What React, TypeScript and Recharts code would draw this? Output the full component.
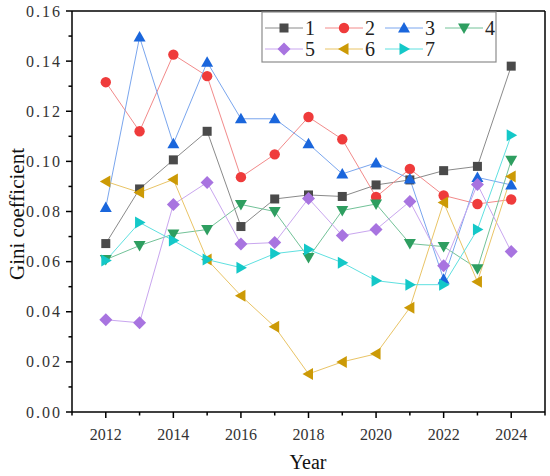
import React from 'react';
import { LineChart, Line, XAxis, YAxis, ReferenceLine } from 'recharts';

const years = [2012, 2013, 2014, 2015, 2016, 2017, 2018, 2019, 2020, 2021, 2022, 2023, 2024];
const s1 = [0.0672, 0.089, 0.1006, 0.112, 0.074, 0.085, 0.0866, 0.086, 0.0906, 0.0926, 0.0963, 0.098, 0.138];
const s2 = [0.1316, 0.112, 0.1426, 0.134, 0.0937, 0.1028, 0.1177, 0.1088, 0.0858, 0.097, 0.0864, 0.083, 0.0848];
const s3 = [0.0816, 0.1496, 0.107, 0.1396, 0.117, 0.117, 0.107, 0.095, 0.0994, 0.093, 0.053, 0.0936, 0.0906];
const s4 = [0.0608, 0.0664, 0.071, 0.0728, 0.0828, 0.08, 0.0616, 0.0804, 0.083, 0.0672, 0.066, 0.0572, 0.1004];
const s5 = [0.0368, 0.0356, 0.0828, 0.0916, 0.067, 0.0676, 0.0852, 0.0704, 0.0728, 0.084, 0.0584, 0.0908, 0.064];
const s6 = [0.092, 0.0876, 0.0928, 0.0608, 0.0464, 0.034, 0.0152, 0.02, 0.0232, 0.0416, 0.0836, 0.052, 0.094];
const s7 = [0.0604, 0.0756, 0.0684, 0.0608, 0.0576, 0.0632, 0.0648, 0.0596, 0.0524, 0.0508, 0.0508, 0.0728, 0.1104];

const seriesNames = ['1', '2', '3', '4', '5', '6', '7'];
const seriesValues = [s1, s2, s3, s4, s5, s6, s7];
const lineColors = ['#8a8a8a', '#f28a8a', '#7aa6ee', '#72c298', '#c9a6ef', '#e9c466', '#5fe0e0'];
const markerColors = ['#4a4a4a', '#ef3b3b', '#1a66dc', '#2e9e60', '#a874e0', '#cc9a06', '#14c8c8'];
const markerShapes = ['square', 'circle', 'up', 'down', 'diamond', 'left', 'right'];

const xTicks = [2011, 2012, 2013, 2014, 2015, 2016, 2017, 2018, 2019, 2020, 2021, 2022, 2023, 2024, 2025];
const yTicks = [0, 0.01, 0.02, 0.03, 0.04, 0.05, 0.06, 0.07, 0.08, 0.09, 0.1, 0.11, 0.12, 0.13, 0.14, 0.15, 0.16];

const data = years.map((year, i) => {
  const row: any = { year };
  seriesNames.forEach((n, k) => {
    row['s' + n] = seriesValues[k][i];
  });
  return row;
});

const FONT = '"Liberation Serif", "Times New Roman", serif';

function Marker({ cx, cy, shape, color }: { cx: number; cy: number; shape: string; color: string }) {
  if (cx == null || cy == null || isNaN(cx) || isNaN(cy)) return null;
  const s = 6;
  switch (shape) {
    case 'square':
      return <rect x={cx - 4.5} y={cy - 4.5} width={9} height={9} fill={color} />;
    case 'circle':
      return <circle cx={cx} cy={cy} r={5.2} fill={color} />;
    case 'up':
      return <polygon points={`${cx},${cy - s} ${cx - s},${cy + 4.5} ${cx + s},${cy + 4.5}`} fill={color} />;
    case 'down':
      return <polygon points={`${cx},${cy + s} ${cx - s},${cy - 4.5} ${cx + s},${cy - 4.5}`} fill={color} />;
    case 'left':
      return <polygon points={`${cx - s},${cy} ${cx + 4.5},${cy - s} ${cx + 4.5},${cy + s}`} fill={color} />;
    case 'right':
      return <polygon points={`${cx + s},${cy} ${cx - 4.5},${cy - s} ${cx - 4.5},${cy + s}`} fill={color} />;
    case 'diamond':
      return <polygon points={`${cx},${cy - 6.5} ${cx + 6.5},${cy} ${cx},${cy + 6.5} ${cx - 6.5},${cy}`} fill={color} />;
    default:
      return null;
  }
}

function XTick(props: any) {
  const { x, y, payload } = props;
  const v = payload.value as number;
  const major = v % 2 === 0;
  return (
    <g>
      <line x1={x} y1={y} x2={x} y2={y + (major ? 6 : 3.5)} stroke="#000" strokeWidth={1.5} />
      {major ? (
        <text x={x} y={y + 28} textAnchor="middle" fontSize={16} fontFamily={FONT} fill="#333">
          {v}
        </text>
      ) : null}
    </g>
  );
}

function YTick(props: any) {
  const { x, y, payload } = props;
  const v = payload.value as number;
  const idx = Math.round(v * 100);
  const major = idx % 2 === 0;
  return (
    <g>
      <line x1={x} y1={y} x2={x - (major ? 6 : 3.5)} y2={y} stroke="#000" strokeWidth={1.5} />
      {major ? (
        <text x={x - 10} y={y + 5.5} textAnchor="end" fontSize={16} fontFamily={FONT} fill="#333" letterSpacing={2}>
          {v.toFixed(2)}
        </text>
      ) : null}
    </g>
  );
}

function LegendBox() {
  return (
    <svg width={236} height={52} style={{ position: 'absolute', left: 261, top: 11 }}>
      <rect x={1} y={1} width={234} height={50} fill="#fff" stroke="#8c8c8c" strokeWidth={1.2} />
      {seriesNames.map((n, k) => {
        const col = k < 4 ? k : k - 4;
        const row = k < 4 ? 0 : 1;
        const x0 = 4 + col * 60;
        const cy = row === 0 ? 17 : 38;
        return (
          <g key={n}>
            <line x1={x0} y1={cy} x2={x0 + 38} y2={cy} stroke={lineColors[k]} strokeWidth={1} />
            <Marker cx={x0 + 19} cy={cy} shape={markerShapes[k]} color={markerColors[k]} />
            <text x={x0 + 40} y={cy + 7} fontSize={20} fontFamily={FONT} fill="#222">
              {n}
            </text>
          </g>
        );
      })}
    </svg>
  );
}

export default function App() {
  return (
    <div style={{ position: 'absolute', left: 0, top: 0, width: 550, height: 476, background: '#fff' }}>
      <LineChart width={550} height={476} data={data} margin={{ top: 11, right: 5, left: 12, bottom: 0 }}>
        <XAxis
          dataKey="year"
          type="number"
          domain={[2011, 2025]}
          ticks={xTicks}
          interval={0}
          height={64}
          tickSize={0}
          tickMargin={0}
          tickLine={false}
          tick={<XTick />}
          axisLine={{ stroke: '#000', strokeWidth: 1.5 }}
          label={{
            content: () => (
              <text x={308} y={469} textAnchor="middle" fontSize={20} fontFamily={FONT} fill="#111">
                Year
              </text>
            ),
          }}
        />
        <YAxis
          type="number"
          domain={[0, 0.16]}
          ticks={yTicks}
          interval={0}
          width={60}
          tickSize={0}
          tickMargin={0}
          tickLine={false}
          tick={<YTick />}
          axisLine={{ stroke: '#000', strokeWidth: 1.5 }}
          label={{
            content: () => (
              <text
                x={17}
                y={214}
                transform="rotate(-90, 17, 214)"
                textAnchor="middle"
                dominantBaseline="central"
                fontSize={21}
                fontFamily={FONT}
                fill="#111"
              >
                Gini coefficient
              </text>
            ),
          }}
        />
        <ReferenceLine y={0.16} stroke="#000" strokeWidth={1.5} />
        <ReferenceLine x={2025} stroke="#000" strokeWidth={1.5} />
        {seriesNames.map((n, k) => (
          <Line
            key={n}
            dataKey={'s' + n}
            name={n}
            stroke={lineColors[k]}
            strokeWidth={1}
            isAnimationActive={false}
            dot={(p: any) => (
              <Marker key={`${n}-${p.index}`} cx={p.cx} cy={p.cy} shape={markerShapes[k]} color={markerColors[k]} />
            )}
            activeDot={false}
          />
        ))}
      </LineChart>
      <LegendBox />
    </div>
  );
}
